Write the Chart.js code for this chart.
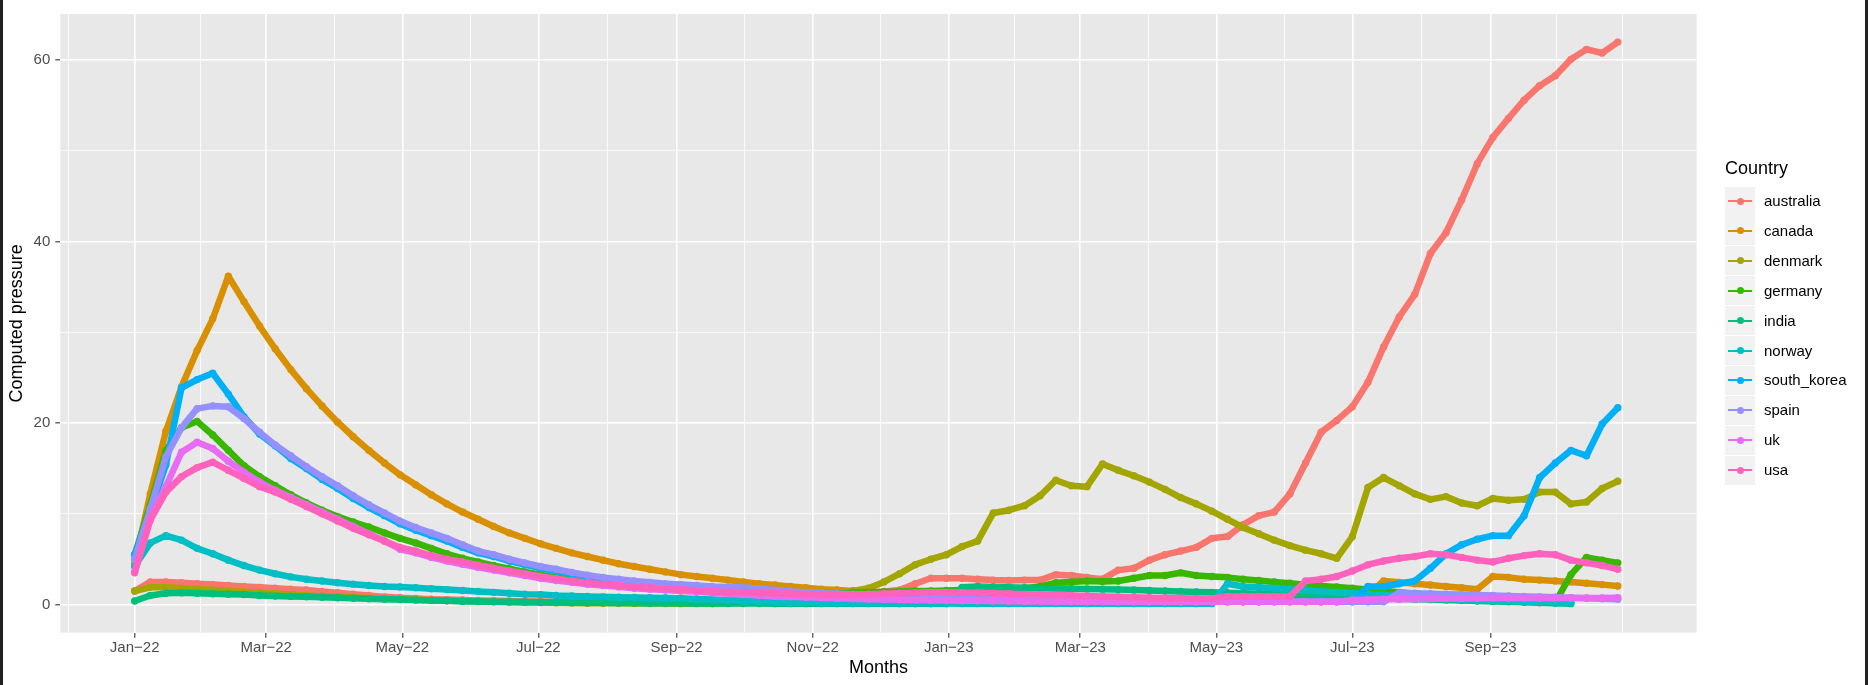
<!DOCTYPE html>
<html>
<head>
<meta charset="utf-8">
<script src="https://cdn.jsdelivr.net/npm/chart.js@4.4.1/dist/chart.umd.min.js"></script>
<style>
  html, body { margin: 0; padding: 0; background: #fff; }
  #wrap { position: relative; width: 1868px; height: 685px; overflow: hidden; font-family: "Liberation Sans", Arial, Helvetica, sans-serif; }
  #chart { position: absolute; left: 0; top: 0; }
  .edge { position: absolute; top: 0; width: 3px; height: 685px; background: #222; }
  .legend-title { position: absolute; left: 1725px; top: 157px; font-size: 18px; line-height: 22px; color: #000; }
  .key { position: absolute; left: 1725px; width: 30px; height: 29px; background: #F2F2F2; }
  .key-line { position: absolute; left: 3px; top: 13.5px; width: 24px; height: 2px; }
  .key-dot { position: absolute; left: 11.5px; top: 11px; width: 7px; height: 7px; border-radius: 50%; }
  .key-label { position: absolute; left: 1764px; font-size: 15px; line-height: 18px; color: #000; white-space: nowrap; }
</style>
</head>
<body>
<div id="wrap">
  <canvas id="chart" width="1868" height="685"></canvas>
  <div class="edge" style="left:0"></div>
  <div class="edge" style="left:1865px"></div>
  <div class="legend-title">Country</div>
  <div id="legend"></div>
</div>
<script>
// days since 2022-01-01, one sample a week
const days = [0,7,14,21,28,35,42,49,56,63,70,77,84,91,98,105,112,119,126,133,140,147,154,161,168,175,182,189,196,203,210,217,224,231,238,245,252,259,266,273,280,287,294,301,308,315,322,329,336,343,350,357,364,371,378,385,392,399,406,413,420,427,434,441,448,455,462,469,476,483,490,497,504,511,518,525,532,539,546,553,560,567,574,581,588,595,602,609,616,623,630,637,644,651,658,665];

const countries = ['australia','canada','denmark','germany','india','norway','south_korea','spain','uk','usa'];
const colors = ['#F8766D','#D89000','#A3A500','#39B600','#00BF7D','#00BFC4','#00B0F6','#9590FF','#E76BF3','#FF62BC'];

const australia = [1.5,2.5,2.5,2.4,2.3,2.2,2.1,2.0,1.9,1.8,
  1.7,1.6,1.45,1.3,1.15,1.0,0.85,0.75,0.68,0.6,
  0.55,0.5,0.45,0.42,0.4,0.38,0.35,0.3,0.27,0.25,
  0.22,0.2,0.2,0.2,0.2,0.2,0.25,0.35,0.45,0.55,
  0.7,0.85,1.0,1.1,1.05,1.1,1.2,1.3,1.45,1.6,
  2.3,2.9,2.9,2.9,2.8,2.7,2.65,2.7,2.7,3.3,
  3.2,3.0,2.8,3.8,4.0,4.9,5.5,5.9,6.3,7.3,
  7.5,8.8,9.8,10.2,12.2,15.6,19.0,20.3,21.8,24.5,
  28.4,31.7,34.2,38.7,41.0,44.6,48.6,51.5,53.6,55.6,
  57.2,58.3,60.1,61.2,60.8,62.0];
const canada = [4.5,12.2,19.1,24.0,28.0,31.5,36.2,33.4,30.7,28.2,
  25.9,23.8,21.9,20.1,18.5,17.0,15.6,14.3,13.2,12.1,
  11.1,10.2,9.4,8.6,7.9,7.3,6.7,6.2,5.7,5.3,
  4.9,4.5,4.2,3.9,3.6,3.3,3.1,2.9,2.7,2.5,
  2.3,2.15,2.0,1.85,1.7,1.6,1.5,1.4,1.3,1.2,
  1.15,1.1,1.0,0.95,0.9,0.85,0.8,0.75,0.7,0.65,
  0.6,0.55,0.5,0.48,0.45,0.42,0.4,0.38,0.36,0.35,
  0.35,0.35,0.35,0.35,0.35,0.35,0.35,0.35,1.0,1.1,
  2.6,2.45,2.3,2.15,2.0,1.85,1.7,3.1,3.0,2.8,
  2.7,2.6,2.5,2.35,2.2,2.05];
const denmark = [1.5,1.9,1.9,1.8,1.7,1.6,1.5,1.4,1.3,1.2,
  1.1,1.0,0.92,0.85,0.78,0.7,0.64,0.58,0.52,0.47,
  0.42,0.38,0.34,0.3,0.27,0.24,0.22,0.2,0.18,0.16,
  0.15,0.14,0.13,0.12,0.11,0.1,0.1,0.12,0.15,0.2,
  0.3,0.4,0.55,0.7,0.9,1.2,1.5,1.8,2.5,3.4,
  4.4,5.0,5.5,6.4,7.0,10.1,10.4,10.9,12.0,13.7,
  13.1,13.0,15.5,14.8,14.2,13.5,12.7,11.8,11.1,10.3,
  9.4,8.5,7.8,7.1,6.5,6.0,5.6,5.1,7.5,12.9,
  14.0,13.1,12.2,11.6,11.9,11.2,10.9,11.7,11.5,11.6,
  12.4,12.4,11.1,11.3,12.8,13.6];
const germany = [5.5,11.0,17.0,19.5,20.2,18.7,17.0,15.3,14.1,13.1,
  12.1,11.2,10.4,9.7,9.1,8.55,7.9,7.3,6.8,6.2,
  5.6,5.1,4.7,4.3,3.95,3.6,3.3,3.0,2.75,2.5,
  2.3,2.1,1.95,1.8,1.7,1.6,1.5,1.4,1.35,1.3,
  1.25,1.2,1.15,1.1,1.1,1.2,1.3,1.35,1.4,1.45,
  1.5,1.5,1.55,1.6,1.65,1.7,1.75,1.8,2.0,2.4,
  2.5,2.6,2.55,2.6,2.9,3.2,3.2,3.5,3.2,3.1,
  3.0,2.8,2.65,2.5,2.35,2.2,2.05,1.95,1.8,1.65,
  1.5,1.35,1.2,1.05,0.9,0.75,0.6,0.45,0.35,0.3,
  0.25,0.25,3.3,5.2,4.9,4.6];
const india = [0.4,1.0,1.25,1.3,1.25,1.2,1.15,1.1,1.0,0.95,
  0.9,0.85,0.8,0.75,0.7,0.65,0.6,0.55,0.5,0.46,
  0.42,0.38,0.35,0.32,0.3,0.28,0.26,0.24,0.22,0.2,
  0.19,0.18,0.17,0.16,0.15,0.14,0.13,0.12,0.12,0.11,
  0.11,0.1,0.1,0.1,0.1,0.1,0.1,0.1,0.1,0.1,
  0.1,0.1,0.1,1.9,2.0,1.95,1.9,1.85,1.8,1.78,
  1.75,1.72,1.7,1.65,1.6,1.55,1.5,1.45,1.4,1.35,
  1.3,1.25,1.2,1.15,1.1,1.0,0.95,0.9,0.8,0.75,
  0.7,0.65,0.6,0.55,0.5,0.45,0.4,0.35,0.3,0.25,
  0.2,0.15,0.1,null,null,null];
const norway = [4.2,6.8,7.6,7.1,6.2,5.6,4.9,4.3,3.8,3.4,
  3.05,2.8,2.6,2.4,2.25,2.1,2.0,1.95,1.85,1.75,
  1.65,1.55,1.45,1.35,1.25,1.15,1.1,1.0,0.95,0.9,
  0.85,0.8,0.78,0.75,0.73,0.7,0.62,0.55,0.48,0.4,
  0.33,0.28,0.22,0.2,0.18,0.16,0.15,0.14,0.13,0.12,
  0.12,0.11,0.11,0.1,0.1,0.1,0.1,0.1,0.1,0.1,
  0.1,0.1,0.1,0.1,0.1,0.1,0.1,0.1,0.1,0.1,
  2.3,2.0,1.9,1.8,1.7,1.6,1.45,1.35,1.25,1.15,
  1.05,0.95,0.85,0.75,0.65,0.55,0.5,0.45,0.4,0.35,
  0.3,0.25,0.2,null,null,null];
const south_korea = [5.5,10.3,15.4,23.9,24.8,25.5,23.2,20.7,18.8,17.5,
  16.1,15.0,13.8,12.8,11.7,10.7,9.8,8.9,8.2,7.6,
  7.0,6.3,5.7,5.3,4.8,4.4,4.0,3.7,3.4,3.1,
  2.85,2.65,2.45,2.3,2.15,2.05,1.95,1.85,1.75,1.65,
  1.5,1.4,1.3,1.2,1.1,1.0,0.95,0.9,0.85,0.8,
  0.75,0.7,0.65,0.6,0.55,0.5,0.47,0.44,0.41,0.38,
  0.35,0.33,0.31,0.3,0.3,0.3,0.3,0.3,0.3,0.3,
  0.3,0.3,0.3,0.3,0.3,0.3,0.3,0.3,0.3,2.0,
  2.0,2.3,2.6,4.0,5.6,6.6,7.2,7.6,7.6,9.8,
  14.0,15.6,17.0,16.4,19.9,21.7];
const spain = [5.0,10.5,16.3,19.5,21.6,21.9,21.8,20.5,19.0,17.6,
  16.4,15.2,14.1,13.1,12.0,11.0,10.1,9.2,8.5,7.9,
  7.3,6.6,5.9,5.5,5.0,4.6,4.2,3.9,3.55,3.25,
  3.0,2.8,2.6,2.45,2.3,2.2,2.1,2.0,1.95,1.9,
  1.75,1.6,1.45,1.35,1.25,1.2,1.15,1.1,1.05,1.0,
  0.95,0.9,0.85,0.8,0.75,0.7,0.65,0.6,0.55,0.5,
  0.48,0.45,0.42,0.4,0.38,0.36,0.34,0.32,0.3,0.3,
  0.3,0.3,0.3,0.3,0.3,0.3,0.3,0.3,0.3,0.3,
  0.3,1.3,1.25,1.2,1.15,1.1,1.05,1.0,0.95,0.9,
  0.85,0.8,0.75,0.7,0.65,0.6];
const uk = [3.6,9.5,13.0,16.8,17.9,17.2,15.8,14.6,13.5,12.6,
  11.8,11.0,10.2,9.4,8.6,7.8,7.0,6.1,5.7,5.2,
  4.8,4.45,4.1,3.8,3.5,3.2,2.9,2.65,2.45,2.25,
  2.1,1.95,1.8,1.7,1.6,1.5,1.4,1.3,1.2,1.1,
  1.0,0.9,0.85,0.8,0.75,0.7,0.65,0.6,0.56,0.52,
  0.5,0.47,0.45,0.43,0.41,0.39,0.37,0.35,0.33,0.32,
  0.3,0.3,0.3,0.3,0.3,0.3,0.3,0.3,0.3,0.3,
  0.3,0.3,0.3,0.3,0.3,0.3,0.3,0.3,0.5,0.55,
  0.58,0.6,0.62,0.64,0.66,0.68,0.7,0.72,0.73,0.73,
  0.73,0.73,0.73,0.73,0.73,0.75];
const usa = [3.5,9.3,12.4,14.1,15.1,15.7,14.8,13.9,13.0,12.4,
  11.6,10.8,10.0,9.2,8.4,7.7,7.0,6.3,5.9,5.4,
  5.0,4.7,4.35,4.0,3.7,3.4,3.1,2.85,2.6,2.4,
  2.25,2.1,1.95,1.85,1.75,1.65,1.55,1.45,1.4,1.35,
  1.3,1.25,1.2,1.15,1.1,1.1,1.1,1.15,1.2,1.25,
  1.3,1.35,1.35,1.3,1.3,1.25,1.2,1.15,1.1,1.05,
  1.0,0.95,0.9,0.85,0.8,0.75,0.72,0.7,0.68,0.66,
  0.9,0.9,0.9,0.9,0.9,2.6,2.8,3.1,3.7,4.4,
  4.8,5.1,5.3,5.6,5.5,5.2,4.9,4.7,5.1,5.4,
  5.6,5.5,4.9,4.6,4.3,3.9];

const seriesValues = [australia, canada, denmark, germany, india, norway, south_korea, spain, uk, usa];

// axis breaks (days since 2022-01-01)
const xMajor = [0,59,120,181,243,304,365,424,485,546,608];
const xLabels = ['Jan−22','Mar−22','May−22','Jul−22','Sep−22','Nov−22','Jan−23','Mar−23','May−23','Jul−23','Sep−23'];
const xMinor = [-29.5,29.5,89.5,150.5,212,273.5,334.5,394.5,454.5,515.5,577,637.5,667];
const yMajor = [0,20,40,60];
const yMinor = [10,30,50];

const FONT = '"Liberation Sans", Arial, Helvetica, sans-serif';

const datasets = countries.map((name, i) => ({
  label: name,
  data: days.map((d, j) => ({ x: d, y: seriesValues[i][j] })),
  borderColor: colors[i],
  backgroundColor: colors[i],
  borderWidth: 6.5,
  borderJoinStyle: 'round',
  borderCapStyle: 'round',
  pointRadius: 3.7,
  pointBorderWidth: 0,
  pointHoverRadius: 3.7,
  tension: 0,
  spanGaps: false,
  order: countries.length - i   // australia at the bottom, usa on top
}));

const panelBg = {
  id: 'panelBg',
  beforeDraw(chart) {
    const { ctx, chartArea: a } = chart;
    ctx.save();
    ctx.fillStyle = '#E8E8E8';
    ctx.fillRect(a.left, a.top, a.right - a.left, a.bottom - a.top);
    ctx.restore();
  }
};

const isXMajor = v => xMajor.includes(v);
const isYMajor = v => yMajor.includes(v);

new Chart(document.getElementById('chart'), {
  type: 'line',
  data: { datasets },
  plugins: [panelBg],
  options: {
    responsive: false,
    devicePixelRatio: 1,
    animation: false,
    events: [],
    layout: { padding: { left: 0, right: 171.4, top: 9, bottom: 0 } },
    plugins: { legend: { display: false }, tooltip: { enabled: false } },
    scales: {
      x: {
        type: 'linear',
        min: -33.35,
        max: 700.35,
        afterBuildTicks: s => { s.ticks = xMinor.concat(xMajor).sort((a, b) => a - b).map(v => ({ value: v })); },
        afterFit: s => { s.height = 52.3; },
        border: { display: false },
        grid: {
          color: '#FFFFFF',
          lineWidth: c => (c.tick && isXMajor(c.tick.value)) ? 1.6 : 0.8,
          tickColor: c => (c.tick && isXMajor(c.tick.value)) ? '#333333' : 'rgba(0,0,0,0)',
          tickWidth: 1.1,
          tickLength: 5,
          drawTicks: true
        },
        ticks: {
          autoSkip: false,
          maxRotation: 0,
          padding: 1,
          color: '#4D4D4D',
          font: { family: FONT, size: 15 },
          callback: v => { const k = xMajor.indexOf(v); return k >= 0 ? xLabels[k] : ''; }
        },
        title: {
          display: true,
          text: 'Months',
          color: '#000',
          font: { family: FONT, size: 18 },
          padding: { top: 0, bottom: 6 }
        }
      },
      y: {
        type: 'linear',
        min: -3.1,
        max: 65.1,
        afterBuildTicks: s => { s.ticks = yMinor.concat(yMajor).sort((a, b) => a - b).map(v => ({ value: v })); },
        afterFit: s => { s.width = 60.3; },
        border: { display: false },
        grid: {
          color: '#FFFFFF',
          lineWidth: c => (c.tick && isYMajor(c.tick.value)) ? 1.6 : 0.8,
          tickColor: c => (c.tick && isYMajor(c.tick.value)) ? '#333333' : 'rgba(0,0,0,0)',
          tickWidth: 1.1,
          tickLength: 5,
          drawTicks: true
        },
        ticks: {
          autoSkip: false,
          padding: 5,
          color: '#4D4D4D',
          font: { family: FONT, size: 15 },
          callback: v => isYMajor(v) ? String(v) : ''
        },
        title: {
          display: true,
          text: 'Computed pressure',
          color: '#000',
          font: { family: FONT, size: 18 },
          padding: { top: 6.5, bottom: 0 }
        }
      }
    }
  }
});

// legend (ggplot style keys)
const legend = document.getElementById('legend');
countries.forEach((name, k) => {
  const cy = 201 + 29.9 * k;
  const key = document.createElement('div');
  key.className = 'key';
  key.style.top = (cy - 14.5) + 'px';
  key.innerHTML = `<div class="key-line" style="background:${colors[k]}"></div><div class="key-dot" style="background:${colors[k]}"></div>`;
  legend.appendChild(key);
  const lab = document.createElement('div');
  lab.className = 'key-label';
  lab.style.top = (cy - 9) + 'px';
  lab.textContent = name;
  legend.appendChild(lab);
});
</script>
</body>
</html>
